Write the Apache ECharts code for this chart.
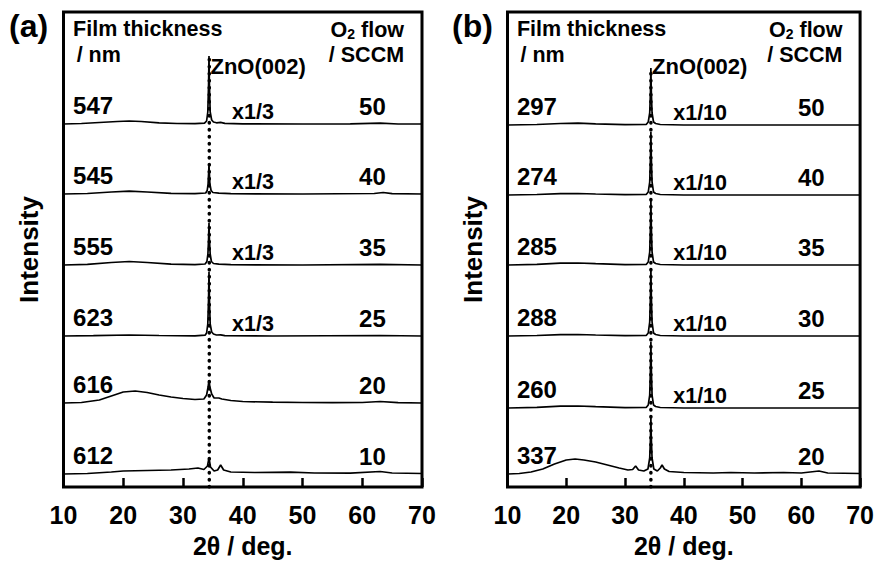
<!DOCTYPE html>
<html><head><meta charset="utf-8">
<script src="https://cdn.jsdelivr.net/npm/echarts@6/dist/echarts.min.js"></script>
<style>html,body{margin:0;padding:0;background:#fff}#c{width:877px;height:563px}</style>
</head><body><div id="c"></div>
<script>
// ---- data (intensity above each trace's baseline, arbitrary units) ----
const xTicks = [10, 20, 30, 40, 50, 60, 70];
const peakPos = 34.4;

// Panel (a)
const thickA = ['547', '545', '555', '623', '616', '612'];
const flowA = ['50', '40', '35', '25', '20', '10'];
const scaleA = ['x1/3', 'x1/3', 'x1/3', 'x1/3', '', ''];
const offsetA = [363, 293, 222, 151, 84, 13];
const a1 = [[10,0],[13,0.5],[16,1.5],[19,2.5],[21,3],[23,2.5],[26,1.2],[29,0.5],[32,0.3],[33.6,0.8],[33.95,3],[34.15,12],[34.28,40],[34.35,68],[34.42,40],[34.55,12],[34.8,4],[35.1,2],[35.6,1.2],[36.3,1.6],[37,0.6],[40,0.2],[50,0],[58,0.2],[63,0.8],[66,0],[70,0]];
const a2 = [[10,0],[14,0.5],[18,2],[21,2.8],[24,2],[28,0.6],[32,0.3],[33.8,1],[34.05,3.5],[34.2,10],[34.35,29],[34.5,10],[34.7,3.5],[35,1.5],[36,0.8],[38,0.3],[50,0],[62,0.5],[63.5,1.5],[65,0.3],[70,0]];
const a3 = [[10,0],[14,0.6],[18,2.5],[21,3.5],[24,2.5],[28,0.8],[32,0.3],[33.7,1],[34.0,3.5],[34.17,11],[34.28,26],[34.35,42],[34.42,26],[34.55,11],[34.75,3.5],[35.1,1.5],[36,0.8],[38,0.3],[50,0],[63,0.6],[70,0]];
const a4 = [[10,0],[15,0.4],[21,1],[26,0.5],[32,0.2],[33.7,0.8],[33.95,3],[34.15,12],[34.28,38],[34.35,64],[34.42,38],[34.55,12],[34.8,4],[35.1,2],[35.6,1],[36.3,1.2],[37,0.4],[45,0],[63,0.5],[70,0]];
const a5 = [[10,0],[13,0.5],[16,3],[18,7],[20,11],[22,12],[24,10.5],[26,8],[28,6],[30,4.5],[32,3.5],[33.5,4],[33.95,8],[34.2,16],[34.35,23],[34.5,16],[34.8,9],[35.2,5],[36,5],[36.5,4],[38,2.5],[40,1.5],[45,0.8],[50,0.5],[55,0.3],[60,0.5],[63,1.5],[66,0.3],[70,0]];
const a6 = [[10,0],[14,0.5],[18,2],[20,3],[24,3.5],[28,4],[31,5],[32.5,6],[33.5,4.5],[34.1,8],[34.35,16],[34.6,7],[35.2,3],[35.8,4],[36.3,9],[36.8,4],[38,2],[42,1.5],[48,1.8],[52,1],[58,0.8],[63,2.5],[65,1],[70,0.5]];
const tracesA = [a1, a2, a3, a4, a5, a6];

// Panel (b)
const thickB = ['297', '274', '285', '288', '260', '337'];
const flowB = ['50', '40', '35', '30', '25', '20'];
const scaleB = ['x1/10', 'x1/10', 'x1/10', 'x1/10', 'x1/10', ''];
const offsetB = [362, 292, 222, 151, 79, 13];
const b1 = [[10,0],[15,0.5],[19,1.5],[22,1.8],[25,1.2],[30,0.4],[33.6,0.5],[33.95,3],[34.2,12],[34.33,34],[34.4,57],[34.47,34],[34.6,12],[34.85,3],[35.2,1.5],[36,0.5],[40,0],[70,0]];
const b2 = [[10,0],[15,0.5],[19,1.3],[22,1.5],[25,1],[30,0.3],[33.6,0.5],[33.95,3],[34.2,13],[34.33,38],[34.4,63],[34.47,38],[34.6,13],[34.85,3],[35.2,1.5],[36,0.5],[40,0],[70,0]];
const b3 = [[10,0],[15,0.6],[19,1.8],[22,2],[25,1.3],[30,0.4],[33.6,0.5],[33.95,3],[34.2,13],[34.33,39],[34.4,65],[34.47,39],[34.6,13],[34.85,3],[35.2,1.5],[36,0.5],[40,0],[70,0]];
const b4 = [[10,0],[15,0.5],[19,1.3],[22,1.5],[25,1],[30,0.3],[33.6,0.5],[33.95,3],[34.2,14],[34.33,41],[34.4,68],[34.47,41],[34.6,14],[34.85,3],[35.2,1.5],[36,0.5],[40,0],[70,0]];
const b5 = [[10,0],[15,0.6],[19,1.8],[22,2],[25,1.3],[30,0.4],[33.6,0.5],[33.95,3],[34.2,13],[34.33,40],[34.4,66],[34.47,40],[34.6,13],[34.85,3],[35.2,1.5],[36,0.5],[40,0],[70,0]];
const b6 = [[10,0],[12,0.5],[14,2],[16,5],[18,10],[20,14],[21.5,15],[23,14],[25,12],[27,9],[29,6],[30.5,4],[31.3,4.5],[31.8,8],[32.3,4],[33.2,3],[33.9,5],[34.2,16],[34.33,36],[34.4,56],[34.47,36],[34.6,16],[34.9,5],[35.5,3],[36.0,6],[36.3,9],[36.7,5],[37.5,2.5],[40,1.5],[45,1],[48,1.5],[52,1],[57,1.5],[60,1],[63,3],[64.5,1],[70,0.5]];
const tracesB = [b1, b2, b3, b4, b5, b6];

// ---- chart ----
const FONT = "'Liberation Sans', Arial, sans-serif";
const chart = echarts.init(document.getElementById('c'), null, {renderer: 'svg'});

function panelSeries(idx, traces, offsets, thick, flow, scale) {
  const out = [];
  traces.forEach((t, i) => {
    out.push({
      type: 'line', xAxisIndex: idx, yAxisIndex: idx, symbol: 'none', silent: true, z: 3,
      lineStyle: {color: '#000', width: 1.7},
      data: t.map(p => [p[0], p[1] + offsets[i]])
    });
  });
  const topVal = offsets[0] + Math.max(...traces[0].map(p => p[1]));
  out.push({
    type: 'line', xAxisIndex: idx, yAxisIndex: idx, symbol: 'none', silent: true, z: 2,
    lineStyle: {color: '#000', width: 3.5, type: [0.5, 6.5], cap: 'round'},
    data: [[peakPos, 0], [peakPos, topVal]]
  });
  const lab = [];
  const base = {fontFamily: FONT, fontWeight: 'bold', color: '#000', textBorderWidth: 0, opacity: 1};
  const big = Object.assign({}, base, {fontSize: 24});
  offsets.forEach((o, i) => {
    lab.push({value: [11.6, o + 18.5], label: Object.assign({formatter: thick[i], align: 'left', verticalAlign: 'middle'}, big)});
    lab.push({value: [61.7, o + 17.5], label: Object.assign({formatter: flow[i], align: 'center', verticalAlign: 'middle'}, big)});
    if (scale[i]) lab.push({value: [38.2, o + 12], label: Object.assign({formatter: scale[i], align: 'left', verticalAlign: 'middle'}, base, {fontSize: 21.5})});
  });
  const hdr = Object.assign({}, base, {fontSize: 21.5});
  lab.push({value: [11.6, 458.5], label: Object.assign({formatter: 'Film thickness', align: 'left', verticalAlign: 'middle'}, hdr)});
  lab.push({value: [12.2, 432.5], label: Object.assign({formatter: '/ nm', align: 'left', verticalAlign: 'middle'}, hdr)});
  lab.push({value: [67.0, 457.5], label: Object.assign({formatter: '{a|O}{s|2}{a| flow}', align: 'right', verticalAlign: 'middle',
    rich: {a: Object.assign({}, hdr), s: Object.assign({}, hdr, {fontSize: 14, verticalAlign: 'bottom'})}}, hdr)});
  lab.push({value: [67.0, 432.5], label: Object.assign({formatter: '/ SCCM', align: 'right', verticalAlign: 'middle'}, hdr)});
  lab.push({value: [34.6, 421], label: Object.assign({formatter: 'ZnO(002)', align: 'left', verticalAlign: 'middle'}, hdr, {fontSize: 22})});
  lab.forEach(d => { d.label.show = true; d.label.position = 'inside'; });
  out.push({type: 'scatter', xAxisIndex: idx, yAxisIndex: idx, symbolSize: 0, silent: true, z: 5,
    itemStyle: {opacity: 1}, data: lab});
  return out;
}

const xAxisBase = {
  type: 'value', min: 10, max: 70, interval: 10,
  axisLine: {show: false},
  axisTick: {show: true, inside: true, length: 9, lineStyle: {color: '#000', width: 2.5}},
  axisLabel: {fontFamily: FONT, fontWeight: 'bold', fontSize: 25, color: '#000', margin: 15,
    formatter: v => xTicks.includes(v) ? String(v) : ''},
  splitLine: {show: false},
  name: '2θ / deg.', nameLocation: 'middle', nameGap: 46,
  nameTextStyle: {fontFamily: FONT, fontWeight: 'bold', fontSize: 25, color: '#000'}
};
const yAxisBase = {
  type: 'value', min: 0, max: 475,
  axisLine: {show: false}, axisTick: {show: false}, axisLabel: {show: false}, splitLine: {show: false},
  name: 'Intensity', nameLocation: 'middle', nameRotate: 90, nameGap: 22,
  nameTextStyle: {fontFamily: FONT, fontWeight: 'bold', fontSize: 26, color: '#000'}
};

chart.setOption({
  animation: false,
  backgroundColor: '#fff',
  grid: [
    {left: 63.5, width: 358.5, top: 12, height: 475, show: true, borderColor: '#000', borderWidth: 3, backgroundColor: 'transparent'},
    {left: 507.5, width: 357, top: 12, height: 475, show: true, borderColor: '#000', borderWidth: 3, backgroundColor: 'transparent'}
  ],
  xAxis: [Object.assign({gridIndex: 0}, xAxisBase), Object.assign({gridIndex: 1}, xAxisBase)],
  yAxis: [Object.assign({gridIndex: 0}, yAxisBase), Object.assign({gridIndex: 1}, yAxisBase)],
  graphic: [
    {type: 'text', left: 9, top: 10, style: {text: '(a)', font: "bold 32px 'Liberation Sans', Arial, sans-serif", fill: '#000'}},
    {type: 'text', left: 452, top: 10, style: {text: '(b)', font: "bold 32px 'Liberation Sans', Arial, sans-serif", fill: '#000'}}
  ],
  series: [].concat(
    panelSeries(0, tracesA, offsetA, thickA, flowA, scaleA),
    panelSeries(1, tracesB, offsetB, thickB, flowB, scaleB)
  )
});
</script>
</body></html>
